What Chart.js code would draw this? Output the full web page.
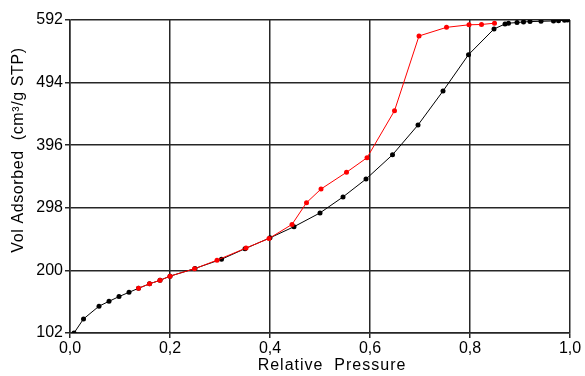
<!DOCTYPE html>
<html>
<head>
<meta charset="utf-8">
<script src="https://cdn.jsdelivr.net/npm/chart.js@4"></script>
<style>
html,body{margin:0;padding:0;background:#fff}
#wrap{width:585px;height:376px}
</style>
</head>
<body>
<div id="wrap"><canvas id="c" width="585" height="376"></canvas></div>
<script>
// adsorption branch (black)
const adsP=[0.008,0.027,0.058,0.078,0.098,0.118,0.137,0.159,0.18,0.2,0.25,0.303,0.35,0.40,0.448,0.5,0.546,0.592,0.645,0.696,0.746,0.797,0.848,0.870,0.877,0.894,0.907,0.920,0.942,0.967,0.977,0.989,0.995];
const adsV=[102,124,144,151.6,159,165.7,172,179,184.5,191,203,217.5,234,251,268.4,290,315,343,381,427.6,480.8,537.7,578,585.7,587,588,589,589.5,590,590.5,591,591.5,592];
// desorption branch (red)
const desP=[0.849,0.823,0.798,0.753,0.698,0.649,0.594,0.553,0.502,0.473,0.444,0.398,0.352,0.294,0.249,0.2,0.18,0.159,0.137];
const desV=[587,585,584.5,580.5,567,450,376.4,353.6,327.4,306,272,250,235,216,202.6,191,184.5,179,172];
const xTicks=[0,0.2,0.4,0.6,0.8,1.0];
const yTicks=[102,200,298,396,494,592];
const xTitle='Relative  Pressure';
const yTitle='Vol Adsorbed  (cm³/g STP)';

const pts=(xs,ys)=>xs.map((x,i)=>({x,y:ys[i]}));
const FAM="'Liberation Sans', Arial, sans-serif";
const font={family:FAM,size:16};
const gridC='#262626';

// axis titles drawn by hand so they sit where the original put them
const titles={id:'titles',afterDraw(chart){
  const{ctx}=chart;
  ctx.save();
  ctx.fillStyle='#000';ctx.font='16px '+FAM;
  ctx.textAlign='center';ctx.textBaseline='middle';
  ctx.letterSpacing='1px';
  ctx.fillText(xTitle,332,366);
  ctx.letterSpacing='0.6px';
  ctx.translate(19,150);ctx.rotate(-Math.PI/2);
  ctx.fillText(yTitle,0,0);
  ctx.restore();
}};

new Chart(document.getElementById('c'),{
  type:'line',
  data:{datasets:[
    {label:'Desorption',data:pts(desP,desV),borderColor:'#ff0000',backgroundColor:'#ff0000',borderWidth:1,pointRadius:2.5,pointBorderWidth:0,tension:0,order:0},
    {label:'Adsorption',data:pts(adsP,adsV),borderColor:'#000',backgroundColor:'#000',borderWidth:1,pointRadius:2.5,pointBorderWidth:0,tension:0,order:1}
  ]},
  options:{
    responsive:false,animation:false,
    layout:{padding:{top:20,right:15,left:0,bottom:0}},
    plugins:{legend:{display:false},tooltip:{enabled:false}},
    scales:{
      x:{type:'linear',min:0,max:1,
        afterBuildTicks:s=>{s.ticks=xTicks.map(v=>({value:v}));},
        afterFit:s=>{s.height=43;},
        ticks:{color:'#000',font,padding:1,maxRotation:0,callback:v=>v.toFixed(1).replace('.',',')},
        grid:{color:gridC,lineWidth:1.5,tickLength:5,tickColor:gridC},
        border:{color:gridC,width:1.5}
      },
      y:{type:'linear',min:102,max:592,
        afterBuildTicks:s=>{s.ticks=yTicks.map(v=>({value:v}));},
        afterFit:s=>{s.width=70;},
        ticks:{color:'#000',font,padding:2},
        grid:{color:gridC,lineWidth:1.5,tickLength:5,tickColor:gridC},
        border:{color:gridC,width:1.5}
      }
    }
  },
  plugins:[titles]
});
</script>
</body>
</html>
